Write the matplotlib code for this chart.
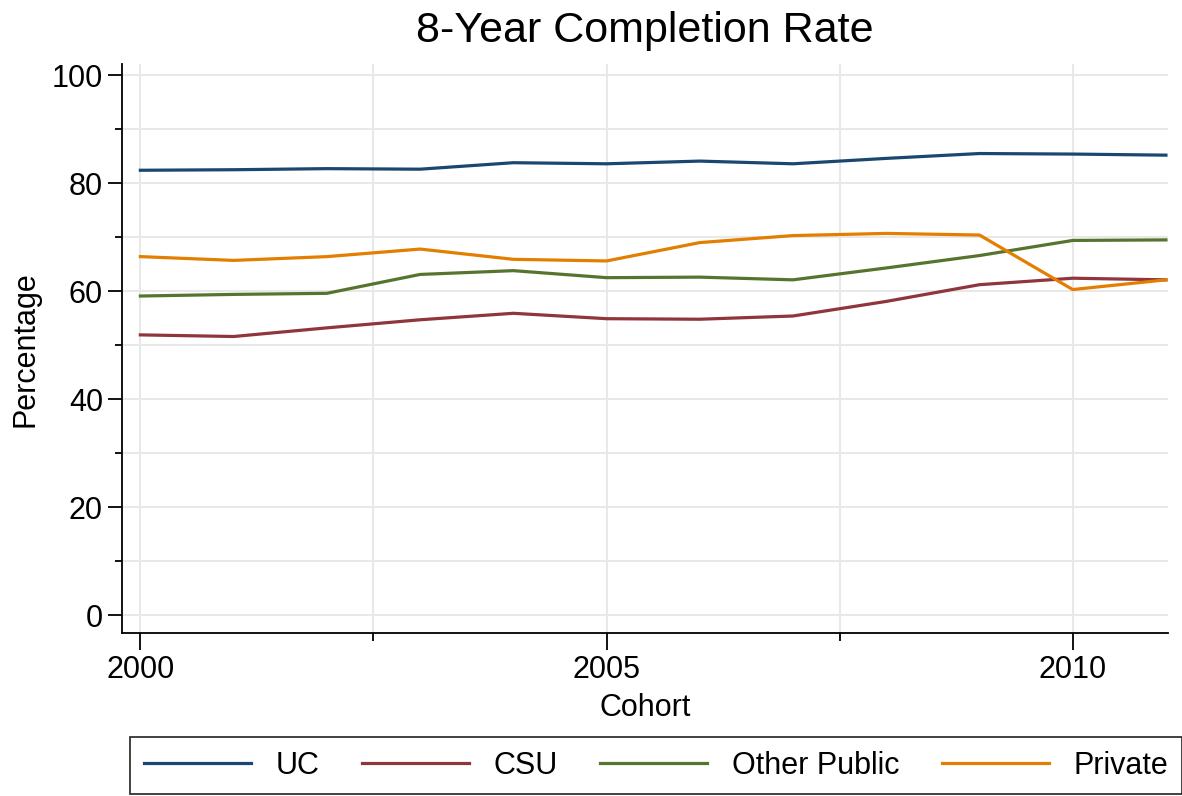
import numpy as np
import matplotlib.pyplot as plt
from matplotlib.ticker import MultipleLocator

plt.rcParams["font.family"] = ["Liberation Sans", "DejaVu Sans"]

years = np.arange(2000, 2012)
uc = [82.4, 82.5, 82.7, 82.6, 83.8, 83.6, 84.1, 83.6, 84.6, 85.5, 85.4, 85.2]
csu = [51.9, 51.6, 53.2, 54.7, 55.9, 54.9, 54.8, 55.4, 58.1, 61.2, 62.4, 62.1]
other_public = [59.1, 59.4, 59.6, 63.1, 63.8, 62.5, 62.6, 62.1, 64.3, 66.6, 69.4, 69.5]
private = [66.4, 65.7, 66.4, 67.8, 65.9, 65.6, 69.0, 70.3, 70.7, 70.4, 60.3, 62.1]

series = [("UC", uc, "#1a476f"),
          ("CSU", csu, "#90353b"),
          ("Other Public", other_public, "#55752f"),
          ("Private", private, "#e37e00")]

fig = plt.figure(figsize=(11.82, 7.96), dpi=100)
ax = fig.add_axes([0.103, 0.205, 0.885, 0.714])

for name, vals, col in series:
    ax.plot(years, vals, color=col, lw=2.3, label=name)

ax.set_xlim(1999.8, 2011.02)
ax.set_ylim(-3.3, 102)
ax.xaxis.set_major_locator(MultipleLocator(5))
ax.xaxis.set_minor_locator(MultipleLocator(2.5))
ax.yaxis.set_minor_locator(MultipleLocator(10))
ax.set_yticks(np.arange(0, 101, 20))

ax.grid(True, which="both", color="#e8e8e8", lw=1.5)
ax.set_axisbelow(True)
for s in ["top", "right"]:
    ax.spines[s].set_visible(False)
ax.spines["left"].set_linewidth(1.3)
ax.spines["bottom"].set_linewidth(1.3)

ax.tick_params(axis="both", which="major", labelsize=22, length=10, width=1.3)
ax.tick_params(axis="both", which="minor", length=5, width=1.3)
ax.tick_params(axis="x", which="major", length=12, pad=4)
ax.tick_params(axis="x", which="minor", length=6)

ax.set_xlabel("Cohort", fontsize=22, labelpad=6)
ax.set_ylabel("Percentage", fontsize=22, labelpad=8)
ax.set_title("8-Year Completion Rate", fontsize=31, pad=16)

leg = fig.legend(loc="lower center", bbox_to_anchor=(0.555, 0.002), ncol=4,
                 fontsize=22, frameon=True, fancybox=False, edgecolor="black",
                 handlelength=3.5, columnspacing=1.4, borderpad=0.45,
                 borderaxespad=0)
leg.get_frame().set_linewidth(1.3)

fig.savefig("out.png", dpi=100)
